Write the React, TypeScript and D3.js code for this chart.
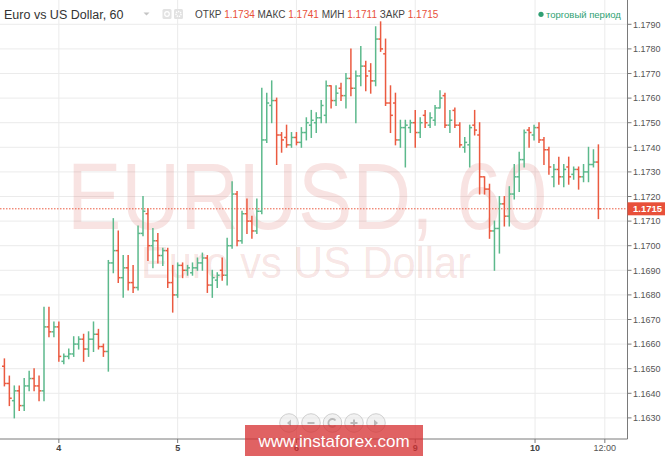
import React from "react";
import * as d3 from "d3";

// ---------- data (EUR/USD, 60 min bars) ----------
const opens = [
  1.1651, 1.1644, 1.1637, 1.1641, 1.1635, 1.1643, 1.1646, 1.1643, 1.1641, 1.1667,
  1.1665, 1.1667, 1.1653, 1.1655, 1.1656, 1.166, 1.1662, 1.1658, 1.1662, 1.1664,
  1.1659, 1.1657, 1.1693, 1.1698, 1.1687, 1.1691, 1.1685, 1.1683, 1.1705, 1.1713,
  1.17, 1.1702, 1.1696, 1.1698, 1.1685, 1.168, 1.1692, 1.169, 1.1689, 1.1691,
  1.1693, 1.1695, 1.1684, 1.1686, 1.169, 1.1688, 1.17, 1.1721, 1.1702, 1.1713,
  1.171, 1.1706, 1.1714, 1.1743, 1.1757, 1.1759, 1.1745, 1.1744, 1.1741, 1.1744,
  1.1742, 1.1746, 1.1749, 1.175, 1.1752, 1.1753, 1.1765, 1.1759, 1.1764, 1.1761,
  1.1768, 1.1764, 1.1769, 1.1773, 1.1771, 1.1767, 1.1784, 1.1778, 1.1758, 1.1758,
  1.1743, 1.1748, 1.1748, 1.175, 1.1746, 1.1753, 1.1749, 1.1751, 1.1756, 1.1761,
  1.1749, 1.1755, 1.1749, 1.174, 1.1741, 1.1749, 1.1745, 1.1728, 1.1723, 1.1706,
  1.1707, 1.1717, 1.1712, 1.1721, 1.1728, 1.1735, 1.1747, 1.1745, 1.1748, 1.1743,
  1.1739, 1.1728, 1.1731, 1.1728, 1.1732, 1.1729, 1.1731, 1.1728, 1.173, 1.1733,
  1.1734,
];
const highs = [
  1.1654, 1.1647, 1.1643, 1.1643, 1.1646, 1.1649, 1.165, 1.1647, 1.1675, 1.1675,
  1.1669, 1.1669, 1.1656, 1.1658, 1.1663, 1.1663, 1.1664, 1.1665, 1.1669, 1.1666,
  1.166, 1.1694, 1.1711, 1.1706, 1.1696, 1.1696, 1.1692, 1.1708, 1.172, 1.1715,
  1.1707, 1.1705, 1.1699, 1.1699, 1.1692, 1.1693, 1.1693, 1.1692, 1.1693, 1.1695,
  1.1697, 1.1696, 1.169, 1.1689, 1.1695, 1.1703, 1.1726, 1.1722, 1.1714, 1.1719,
  1.1712, 1.1719, 1.1764, 1.1762, 1.1767, 1.176, 1.1746, 1.1749, 1.1746, 1.1746,
  1.1748, 1.1752, 1.1755, 1.1754, 1.1759, 1.1767, 1.1765, 1.1765, 1.1766, 1.177,
  1.178, 1.1771, 1.1781, 1.1775, 1.1774, 1.1789, 1.1791, 1.1784, 1.1765, 1.1762,
  1.1751, 1.1751, 1.1751, 1.1755, 1.1752, 1.1755, 1.1754, 1.1757, 1.1763, 1.1762,
  1.1755, 1.1756, 1.175, 1.1744, 1.1749, 1.1755, 1.175, 1.1728, 1.1725, 1.171,
  1.172, 1.172, 1.1724, 1.1733, 1.1738, 1.1747, 1.1748, 1.1749, 1.175, 1.1744,
  1.174, 1.1733, 1.1736, 1.1733, 1.1736, 1.1732, 1.1732, 1.1733, 1.174, 1.1739,
  1.1741,
];
const lows = [
  1.1643, 1.1635, 1.163, 1.1633, 1.1633, 1.1641, 1.1641, 1.1637, 1.1637, 1.1663,
  1.1663, 1.1653, 1.1652, 1.1654, 1.1655, 1.1658, 1.1653, 1.1655, 1.1657, 1.1658,
  1.1655, 1.1649, 1.1689, 1.1685, 1.1679, 1.1682, 1.1681, 1.1682, 1.1704, 1.1694,
  1.1691, 1.1693, 1.1692, 1.1683, 1.1673, 1.1679, 1.1687, 1.1688, 1.1688, 1.169,
  1.169, 1.1681, 1.1679, 1.1683, 1.1686, 1.1684, 1.1699, 1.17, 1.1701, 1.1705,
  1.1703, 1.1705, 1.1713, 1.1742, 1.175, 1.1733, 1.1738, 1.174, 1.174, 1.1741,
  1.174, 1.1743, 1.1744, 1.1746, 1.175, 1.175, 1.1756, 1.1757, 1.1759, 1.1756,
  1.1761, 1.175, 1.1765, 1.1763, 1.1762, 1.1765, 1.1779, 1.1757, 1.1746, 1.1741,
  1.174, 1.1732, 1.1746, 1.174, 1.1744, 1.1748, 1.1748, 1.1749, 1.1756, 1.1748,
  1.1746, 1.1748, 1.174, 1.1738, 1.1732, 1.1745, 1.1721, 1.1721, 1.1703, 1.169,
  1.1697, 1.1708, 1.1708, 1.1719, 1.1722, 1.1732, 1.174, 1.1743, 1.1742, 1.1733,
  1.1729, 1.1724, 1.1725, 1.1724, 1.1725, 1.1727, 1.1723, 1.1726, 1.1726, 1.1732,
  1.1711,
];
const closes = [
  1.1644, 1.1638, 1.1641, 1.1635, 1.1643, 1.1646, 1.1643, 1.1641, 1.1667, 1.1665,
  1.1667, 1.1655, 1.1655, 1.1656, 1.166, 1.1662, 1.1658, 1.1662, 1.1664, 1.1659,
  1.1657, 1.1693, 1.1698, 1.1687, 1.1691, 1.1685, 1.1683, 1.1705, 1.1714, 1.17,
  1.1702, 1.1696, 1.1698, 1.1685, 1.168, 1.1692, 1.169, 1.1691, 1.1691, 1.1693,
  1.1695, 1.1684, 1.1687, 1.1688, 1.1688, 1.17, 1.1721, 1.1702, 1.1713, 1.171,
  1.1706, 1.1714, 1.1743, 1.1758, 1.1759, 1.1745, 1.1743, 1.1741, 1.1744, 1.1742,
  1.1746, 1.175, 1.1751, 1.1752, 1.1757, 1.1765, 1.1759, 1.1762, 1.1761, 1.1768,
  1.1764, 1.1769, 1.1773, 1.1769, 1.1767, 1.1784, 1.178, 1.1758, 1.1753, 1.1743,
  1.1748, 1.1749, 1.175, 1.1746, 1.175, 1.175, 1.1752, 1.1756, 1.176, 1.1749,
  1.1751, 1.1749, 1.1741, 1.1742, 1.1748, 1.1747, 1.1728, 1.1723, 1.1706, 1.1707,
  1.1717, 1.1712, 1.1721, 1.1728, 1.1735, 1.1746, 1.1746, 1.1748, 1.1743, 1.1739,
  1.1732, 1.1731, 1.1728, 1.1731, 1.1728, 1.1731, 1.1728, 1.173, 1.1733, 1.1734,
  1.1715,
];

const priceTicks = [
  1.163, 1.164, 1.165, 1.166, 1.167, 1.168, 1.169, 1.17, 1.171, 1.172, 1.173,
  1.174, 1.175, 1.176, 1.177, 1.178, 1.179,
];
const timeTickIndex = [11, 35, 59, 83, 107.2, 121.3];
const timeTickLabels = ["4", "5", "6", "9", "10", "12:00"];
const timeTickIsDay = [true, true, true, true, true, false];

const lastPrice = 1.1715;
const statNames = ["ОТКР", "МАКС", "МИН", "ЗАКР"];
const statValues = ["1.1734", "1.1741", "1.1711", "1.1715"];
const title = "Euro vs US Dollar, 60";
const watermarkMain = "EURUSD, 60";
const watermarkSub = "Euro vs US Dollar";
const sessionLabel = "торговый период";
const bannerText = "www.instaforex.com";

// ---------- styles ----------
const W = 665;
const H = 456;
const PLOT_RIGHT = 627.5;
const AXIS_BOTTOM = 439;
const GREEN = "#5cb98c";
const RED = "#eb5a40";
const GRID = "#ebebeb";
const FONT = "'Liberation Sans', Arial, Helvetica, sans-serif";

export default function App() {
  const xs = d3.scaleLinear().domain([0, 120]).range([4.4, 598.4]);
  const ys = d3.scaleLinear().domain([1.163, 1.179]).range([417.9, 24.3]);
  const fmt = d3.format(".4f");
  const yLast = ys(lastPrice);

  const navX = [289, 311, 332.5, 354, 376];
  const navY = 423;

  return (
    <div>
      <style>{`body{margin:0;}`}</style>
      <svg width={W} height={H} style={{ display: "block", background: "#fff" }} fontFamily={FONT}>
        {/* horizontal grid */}
        {priceTicks.map((p) => (
          <line key={"hg" + p} x1={0} x2={PLOT_RIGHT} y1={ys(p)} y2={ys(p)} stroke={GRID} strokeWidth={1} />
        ))}
        {/* vertical grid */}
        {timeTickIndex.map((t, k) => (
          <line key={"vg" + k} x1={xs(t)} x2={xs(t)} y1={0} y2={AXIS_BOTTOM} stroke={GRID} strokeWidth={1} />
        ))}

        {/* watermark */}
        <text
          x={307}
          y={229}
          textAnchor="middle"
          fontSize={94}
          fill="rgba(205,70,60,0.15)"
          textLength={480}
          lengthAdjust="spacingAndGlyphs"
        >
          {watermarkMain}
        </text>
        <text
          x={306}
          y={278}
          textAnchor="middle"
          fontSize={44}
          fill="rgba(205,70,60,0.15)"
          textLength={330}
          lengthAdjust="spacingAndGlyphs"
        >
          {watermarkSub}
        </text>

        {/* current price line */}
        <line x1={0} x2={PLOT_RIGHT} y1={yLast} y2={yLast} stroke={RED} strokeWidth={1} strokeDasharray="1.5 1.5" />

        {/* OHLC bars */}
        {opens.map((o, i) => {
          const x = xs(i);
          const c = closes[i];
          const color = c >= o ? GREEN : RED;
          return (
            <g key={"b" + i} stroke={color} strokeWidth={1.5}>
              <line x1={x} x2={x} y1={ys(highs[i]) - 0.5} y2={ys(lows[i]) + 0.5} />
              <line x1={x - 2.4} x2={x} y1={ys(o)} y2={ys(o)} />
              <line x1={x} x2={x + 2.4} y1={ys(c)} y2={ys(c)} />
            </g>
          );
        })}

        {/* axes */}
        <line x1={PLOT_RIGHT} x2={PLOT_RIGHT} y1={0} y2={AXIS_BOTTOM} stroke="#7a7a7a" strokeWidth={1} />
        <line x1={0} x2={PLOT_RIGHT} y1={AXIS_BOTTOM} y2={AXIS_BOTTOM} stroke="#7a7a7a" strokeWidth={1} />
        {priceTicks.map((p) => (
          <g key={"yt" + p}>
            <line x1={PLOT_RIGHT} x2={PLOT_RIGHT + 4} y1={ys(p)} y2={ys(p)} stroke="#7a7a7a" />
            <text x={633} y={ys(p) + 3.3} fontSize={9} fill="#555">
              {fmt(p)}
            </text>
          </g>
        ))}
        {timeTickIndex.map((t, k) => (
          <g key={"xt" + k}>
            <line x1={xs(t)} x2={xs(t)} y1={AXIS_BOTTOM} y2={AXIS_BOTTOM + 4} stroke="#7a7a7a" />
            <text
              x={xs(t)}
              y={450.5}
              fontSize={9}
              textAnchor="middle"
              fill={timeTickIsDay[k] ? "#444" : "#555"}
              fontWeight={timeTickIsDay[k] ? "bold" : "normal"}
            >
              {timeTickLabels[k]}
            </text>
          </g>
        ))}

        {/* current price badge */}
        <rect x={PLOT_RIGHT} y={yLast - 6.5} width={W - PLOT_RIGHT} height={13} fill="#e8503a" />
        <text x={633} y={yLast + 3.5} fontSize={9.5} fill="#fff" fontWeight="bold">
          {fmt(lastPrice)}
        </text>

        {/* header */}
        <text x={4} y={18.5} fontSize={12.5} fill="#333">
          {title}
        </text>
        <path d="M143.5,12.5 L149.5,12.5 L146.5,15.5 Z" fill="#c4c4c4" />
        <rect x={162.5} y={9} width={9} height={10} rx={1.5} fill="#e2e2e2" />
        <circle cx={167} cy={14} r={2.3} fill="none" stroke="#fff" strokeWidth={1.2} />
        <rect x={174} y={9} width={9} height={10} rx={1.5} fill="#e2e2e2" />
        <circle cx={178.5} cy={14} r={2.5} fill="none" stroke="#fff" strokeWidth={1.4} strokeDasharray="1.3 0.9" />
        <text x={195} y={18} fontSize={10}>
          {statNames.map((n, k) => (
            <React.Fragment key={"st" + k}>
              <tspan fill="#444">{(k > 0 ? " " : "") + n + " "}</tspan>
              <tspan fill="#e8503a">{statValues[k]}</tspan>
            </React.Fragment>
          ))}
        </text>
        <circle cx={541} cy={14.3} r={2.6} fill="#2f9f73" />
        <text x={546} y={17.5} fontSize={9.5} fill="#2f9f73">
          {sessionLabel}
        </text>

        {/* navigation buttons */}
        {navX.map((cx, k) => (
          <circle key={"nb" + k} cx={cx} cy={navY} r={9.3} fill="rgba(232,232,232,0.55)" stroke="rgba(190,190,190,0.7)" strokeWidth={1} />
        ))}
        <g fill="#b9b9b9" stroke="#b9b9b9">
          <path d={`M${navX[0] + 2},${navY - 3.5} L${navX[0] - 2},${navY} L${navX[0] + 2},${navY + 3.5} Z`} stroke="none" />
          <line x1={navX[1] - 3.5} x2={navX[1] + 3.5} y1={navY} y2={navY} strokeWidth={2} />
          <path d={`M${navX[2] + 3},${navY - 2.5} A4,4 0 1 0 ${navX[2] + 3},${navY + 2.5}`} fill="none" strokeWidth={1.8} />
          <line x1={navX[3] - 3.5} x2={navX[3] + 3.5} y1={navY} y2={navY} strokeWidth={2} />
          <line x1={navX[3]} x2={navX[3]} y1={navY - 3.5} y2={navY + 3.5} strokeWidth={2} />
          <path d={`M${navX[4] - 2},${navY - 3.5} L${navX[4] + 2},${navY} L${navX[4] - 2},${navY + 3.5} Z`} stroke="none" />
        </g>

        {/* banner */}
        <rect x={245} y={425} width={178} height={31} fill="rgba(214,48,50,0.76)" />
        <text x={334} y={447} textAnchor="middle" fontSize={17} fill="#fff">
          {bannerText}
        </text>
      </svg>
    </div>
  );
}
